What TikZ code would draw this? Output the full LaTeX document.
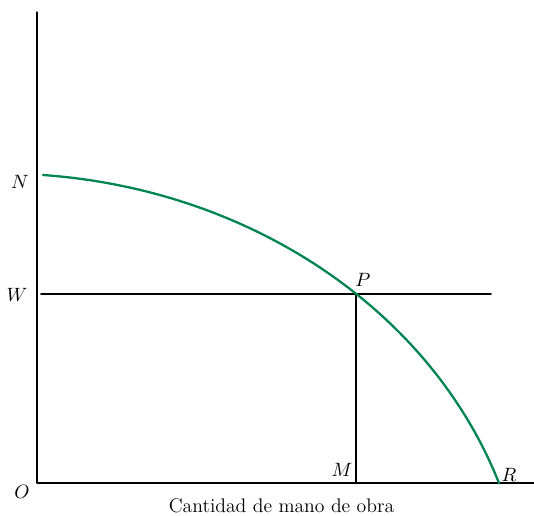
\documentclass[tikz,border=0pt]{standalone}
\definecolor{curvegreen}{RGB}{0,133,82}
\begin{document}
\begin{tikzpicture}[line cap=round, line join=round, font=\fontsize{11}{13}\selectfont]
\tikzset{axis/.style={line width=0.65pt},
  guide/.style={line width=0.9pt},
  frontier/.style={curvegreen, line width=1.3pt}}
\useasboundingbox (-0.74,-0.64) rectangle (9.94,9.66);

\coordinate (O) at (0,0);
\coordinate (Ytop) at (0,9.42);
\coordinate (Xend) at (9.94,0);
\coordinate (N) at (0.12,6.16);
\coordinate (W) at (0.08,3.78);
\coordinate (Wend) at (9.08,3.78);
\coordinate (P) at (6.385,3.78);
\coordinate (M) at (P |- O);

\draw[axis] (Ytop)--(O)--(Xend);
\draw[guide] (W)--(Wend);
\draw[guide] (P)--(M);
% frontera: arco de elipse con centro en (-0.74,-3)
\draw[frontier] (N) arc[start angle=85.33, end angle=19, x radius=10.556, y radius=9.19]
  coordinate (R);

\node (labN) at (-0.34,6.02) {$N$};
\node (labW) at (-0.4,3.76) {$W$};
\node (labO) at (-0.3,-0.18) {$O$};
\node (labP) at (6.52,4.06) {$P$};
\node (labM) at (6.1,0.26) {$M$};
\node (labR) at (9.44,0.16) {$R$};
\node[font=\fontsize{11.2}{13}\selectfont] (eje) at (4.89,-0.46) {Cantidad de mano de obra};
\end{tikzpicture}
\end{document}
